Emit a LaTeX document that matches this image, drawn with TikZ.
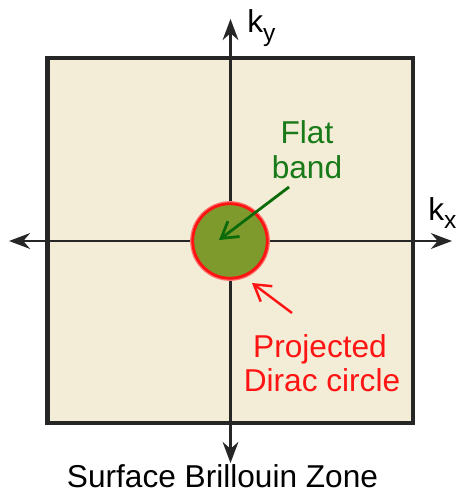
\documentclass[tikz,border=0pt]{standalone}
\usepackage{fontspec}
\setmainfont{Liberation Sans}
\usetikzlibrary{arrows.meta}
\definecolor{bzBeige}{HTML}{F3ECD6}
\definecolor{bzOlive}{HTML}{7F9A2C}
\definecolor{bzGreen}{HTML}{187A18}
\definecolor{bzArrowGreen}{HTML}{0B6B0B}
\definecolor{bzRed}{HTML}{FF1414}

\begin{document}
\begin{tikzpicture}[x=0.02cm,y=-0.02cm,font=\fontsize{18}{19.5}\selectfont,
  axis/.style={line width=1.2pt,black!85,{Stealth[length=12pt,width=9pt]}-{Stealth[length=12pt,width=9pt]}},
  pointer/.style={line width=1.6pt,-{Straight Barb[length=9pt,width=11pt]}}]
\useasboundingbox (0,0) rectangle (458,493);
\fill[bzBeige] (47.5,58) rectangle (413,423);
\draw[line width=2.4pt,black!85] (47.5,58) rectangle (413,423);
\coordinate (xl) at (9,241);
\coordinate (xr) at (452,241);
\coordinate (yt) at (230.5,19);
\coordinate (yb) at (230.5,463);
\draw[axis] (xl) -- (xr);
\draw[axis] (yb) -- (yt);
\coordinate (bz) at (230,241);
\draw[bzRed!60,line width=3pt] (bz) circle[radius=0.745cm];
\draw[fill=bzOlive,draw=bzRed,line width=1.6pt] (bz) circle[radius=0.745cm];
\node (ky) [anchor=base west,inner sep=0pt] at (247,33) {k\raisebox{-5pt}{\fontsize{14}{14}\selectfont y}};
\node (kx) [anchor=base west,inner sep=0pt] at (428,220) {k\raisebox{-5pt}{\fontsize{14}{14}\selectfont x}};
\node (flat) [anchor=base,text=bzGreen,inner sep=0pt] at (307,144) {Flat};
\node (band) [anchor=base,text=bzGreen,inner sep=0pt] at (307,178) {band};
\coordinate (fbtail) at (289,187);
\coordinate (fbtip) at (219,240);
\draw[pointer,bzArrowGreen] (fbtail) -- (fbtip);
\node (proj) [anchor=base,text=bzRed,inner sep=0pt] at (320,357) {Projected};
\node (dirac) [anchor=base,text=bzRed,inner sep=0pt] at (322,391) {Dirac circle};
\coordinate (dctail) at (292,313);
\coordinate (dctip) at (252,283);
\draw[pointer,bzRed,line width=1.4pt] (dctail) -- (dctip);
\node (sbz) [anchor=base,inner sep=0pt] at (222.5,487) {Surface Brillouin Zone};
\end{tikzpicture}
\end{document}
